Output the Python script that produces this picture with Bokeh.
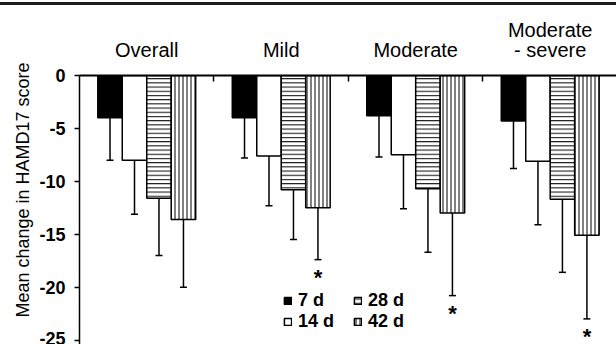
import numpy as np
from bokeh.plotting import figure
from bokeh.models import (Range1d, LinearAxis, FixedTicker, Whisker, TeeHead,
                          ColumnDataSource, Legend, LegendItem)
from bokeh.core.properties import value
from bokeh.embed import file_html
from bokeh.resources import INLINE

# ---- data ----
groups = ["Overall", "Mild", "Moderate", "Moderate\n- severe"]
periods = ["7 d", "14 d", "28 d", "42 d"]
d7 = [-4.0, -4.0, -3.8, -4.3]
d14 = [-8.0, -7.6, -7.5, -8.1]
d28 = [-11.6, -10.8, -10.7, -11.7]
d42 = [-13.6, -12.5, -13.0, -15.1]
sd7 = [4.0, 3.8, 3.9, 4.5]
sd14 = [5.1, 4.7, 5.1, 6.0]
sd28 = [5.4, 4.7, 6.0, 6.9]
sd42 = [6.4, 4.9, 7.8, 7.9]
sig42 = [False, True, True, True]
y_ticks = [0, -5, -10, -15, -20, -25]
y_tick_labels = ["0", "-5", "-10", "-15", "-20", "-25"]
y_title = "Mean change in HAMD17 score"

means = [d7, d14, d28, d42]
sds = [sd7, sd14, sd28, sd42]

FONT = "Liberation Sans"
offsets = [-0.273, -0.091, 0.091, 0.273]
bw = 0.182
styles = [
    dict(fill_color="black"),
    dict(fill_color="white"),
    dict(fill_color="white", hatch_pattern="horizontal_line", hatch_scale=4.2,
         hatch_weight=1, hatch_color="black"),
    dict(fill_color="white", hatch_pattern="vertical_line", hatch_scale=4.0,
         hatch_weight=1, hatch_color="black"),
]

p = figure(width=616, height=344, output_backend="svg", toolbar_location=None,
           x_range=Range1d(0, 3.993), y_range=Range1d(-25.42, 0),
           min_border_left=79, min_border_top=75, min_border_bottom=0,
           min_border_right=0, x_axis_location=None, y_axis_location=None)
p.grid.visible = False
p.outline_line_color = None
p.background_fill_color = "white"
p.border_fill_color = None
p.styles = {"background": "linear-gradient(to bottom, #ffffff 0px, #ffffff 2px, "
                          "#1c1c1c 2px, #1c1c1c 5px, #ffffff 5px, #ffffff 100%)"}

gx = np.arange(len(groups)) + 0.5
renderers = []
for k in range(4):
    xs = gx + offsets[k]
    m = np.array(means[k])
    s = np.array(sds[k])
    src = ColumnDataSource(dict(x=xs, top=np.zeros_like(m), bottom=m,
                                lo=m - s))
    r = p.vbar(x="x", top="top", bottom="bottom", width=bw, source=src,
               line_color="black", line_width=1.5, **styles[k])
    renderers.append(r)
    w = Whisker(base="x", upper="bottom", lower="lo", source=src,
                dimension="height", line_color="black", line_width=1.5,
                upper_head=None,
                lower_head=TeeHead(size=7, line_color="black", line_width=1.5))
    p.add_layout(w)

# significance stars under 42 d error bars
sx = [gx[i] + offsets[3] for i in range(4) if sig42[i]]
sy = [d42[i] - sd42[i] for i in range(4) if sig42[i]]
p.text(x=sx, y=sy, text=["*"] * len(sx), text_font=value(FONT),
       text_font_style="bold", text_font_size="22px", text_align="center",
       text_baseline="top", y_offset=5, text_color="black")

# y axis
yax = LinearAxis(ticker=FixedTicker(ticks=y_ticks, minor_ticks=[]))
yax.major_label_overrides = {t: s for t, s in zip(y_ticks, y_tick_labels)}
yax.major_label_text_font = FONT
yax.major_label_text_font_style = "bold"
yax.major_label_text_font_size = "18px"
yax.major_label_text_color = "black"
yax.major_tick_in = 0
yax.major_tick_out = 5
yax.major_tick_line_width = 1.5
yax.axis_line_width = 1.5
yax.major_label_standoff = 9
yax.axis_label = "\u00a0" * 8 + y_title
yax.axis_label_text_font = FONT
yax.axis_label_text_font_style = "normal"
yax.axis_label_text_font_size = "18px"
yax.axis_label_text_color = "black"
yax.axis_label_standoff = 3
p.add_layout(yax, "left")

# zero line with group separators and group labels
tax = LinearAxis(ticker=FixedTicker(ticks=list(gx), minor_ticks=[1, 2, 3]))
tax.major_label_overrides = {float(x): g for x, g in zip(gx, groups)}
tax.major_label_text_font = FONT
tax.major_label_text_font_size = "20px"
tax.major_label_text_color = "black"
tax.major_label_text_line_height = 0.9
tax.major_label_standoff = 15
tax.major_tick_in = 0
tax.major_tick_out = 0
tax.minor_tick_in = 6
tax.minor_tick_out = 0
tax.minor_tick_line_width = 1.5
tax.minor_tick_line_color = "black"
tax.axis_line_width = 2
p.add_layout(tax, "above")

# legends: two columns
def make_legend(idx, loc):
    lg = Legend(items=[LegendItem(label=periods[i], renderers=[renderers[i]])
                       for i in idx],
                location=loc, orientation="vertical", padding=0, margin=0,
                spacing=0, glyph_width=9, glyph_height=9, label_standoff=6,
                label_text_font=FONT, label_text_font_style="bold",
                label_text_font_size="18px", label_text_color="black",
                label_height=20, border_line_color=None,
                background_fill_alpha=0)
    p.add_layout(lg, "center")

make_legend([0, 1], (204, 12))
make_legend([2, 3], (274, 12))

open("out.html", "w").write(file_html(p, INLINE))
